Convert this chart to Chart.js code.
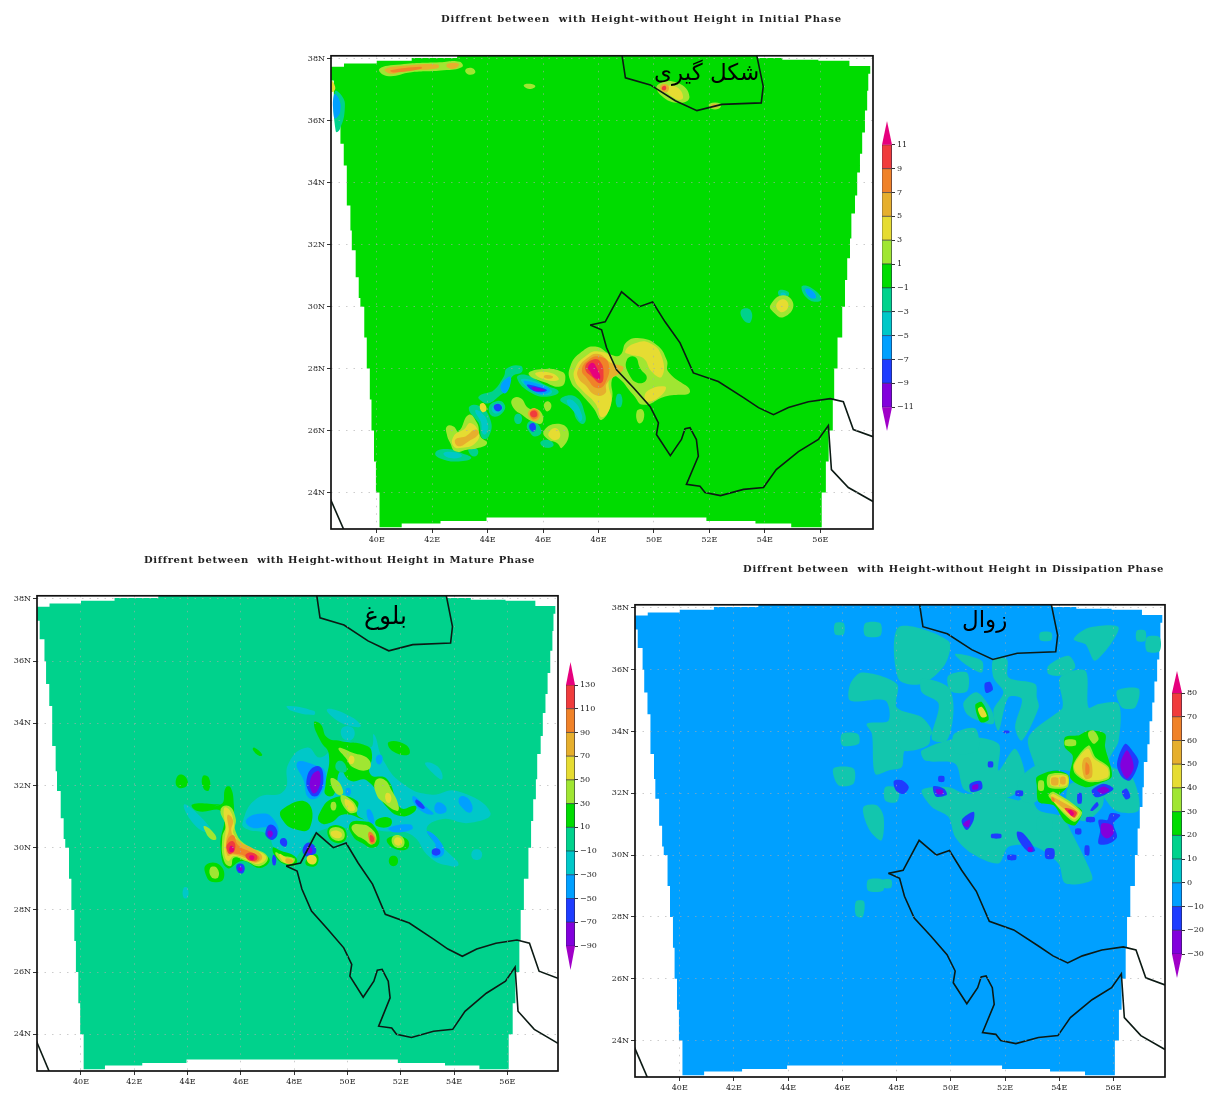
<!DOCTYPE html>
<html><head><meta charset="utf-8">
<script src="https://cdn.jsdelivr.net/npm/chart.js@4"></script>
<style>
html,body{margin:0;padding:0;background:#fff;width:1206px;height:1093px;overflow:hidden}
canvas{position:absolute;filter:blur(.6px)}
.t{position:absolute;white-space:pre;font:bold 10px "DejaVu Serif";color:#222;filter:blur(.25px)}
.p{position:absolute;font-family:"DejaVu Sans";color:#000;direction:rtl;white-space:nowrap;line-height:1}
</style></head><body>
<script>
// ---------- axes ----------
const lonTicks=[40,42,44,46,48,50,52,54,56];
const latTicks=[24,26,28,30,32,34,36,38];
// ---------- map domain and coasts, lon/lat ----------
const domainEdge=[[38.34,37.3],[38.45,36.7],[38.63,36],[38.69,35.26],[38.81,34.56],[38.92,33.27],[39.05,32.46],[39.1,31.82],[39.24,30.95],[39.35,30.28],[39.41,30],[39.55,29],[39.64,28],[39.75,27],[39.81,26],[39.9,25],[39.97,24],[40.1,22.88],[40.9,23],[42.3,23.08],[43.96,23.19],[51.89,23.08],[53.66,23],[54.95,22.88],[55.99,22.88],[56.05,24],[56.2,25],[56.3,26],[56.45,27],[56.5,28],[56.62,29],[56.79,30],[56.89,30.86],[56.97,31.56],[57.07,32.2],[57.12,33.01],[57.25,33.59],[57.33,34.33],[57.43,34.94],[57.51,35.62],[57.61,36.33],[57.69,36.97],[57.73,37.52],[57.8,37.77],[57.05,37.94],[55.93,37.97],[54.63,38.03],[53.73,38.1],[42.9,38.03],[41.26,37.94],[40,37.85],[38.82,37.75]];
const coastNorth=[[47.7,29.41],[48.24,29.51],[48.83,30.48],[49.47,30],[49.95,30.15],[50.4,29.51],[50.94,28.83],[51.42,27.86],[52.32,27.58],[53.23,27.06],[53.77,26.74],[54.31,26.51],[54.85,26.74],[55.57,26.93],[56.36,27.03],[56.83,26.93],[57.19,26.03],[57.9,25.8]];
const coastSouth=[[47.7,29.41],[48.11,29.25],[48.29,28.67],[48.65,27.96],[49.26,27.38],[49.86,26.78],[50.16,26.25],[50.09,25.87],[50.59,25.19],[50.99,25.71],[51.12,26.06],[51.3,26.09],[51.53,25.71],[51.6,25.17],[51.17,24.26],[51.66,24.2],[51.84,24],[52.4,23.9],[53.23,24.1],[53.95,24.16],[54.41,24.74],[55.21,25.32],[55.93,25.71],[56.29,26.16],[56.4,24.74],[57.01,24.16],[57.9,23.71]];
const coastCaspian=[[48.85,38.1],[48.97,37.39],[49.87,37.16],[50.77,36.65],[51.55,36.33],[52.45,36.53],[53.87,36.58],[53.94,37.11],[53.71,38.1]];
const coastRedSea=[[38.3,23.84],[38.81,22.8]];
// ---------- colour-bar levels ----------
const initialLevels=[11,9,7,5,3,1,-1,-3,-5,-7,-9,-11];
const matureLevels=[130,110,90,70,50,30,10,-10,-30,-50,-70,-90];
const dissipationLevels=[80,70,60,50,40,30,20,10,0,-10,-20,-30];
const initialTips=[13,-13];
const matureTips=[149.4,-110.2];
const dissipationTips=[89.3,-40.1];
// ---------- Initial phase contours ----------
const iSea=[
[[42.11,25.27],[42.47,25.4],[43.07,25.27],[43.41,25.11],[42.95,25],[42.35,25.08]],
[[43.32,25.44],[43.62,25.4],[43.62,25.2],[43.4,25.2]],
[[43.68,27.1],[44.16,27.26],[44.58,27.74],[44.7,28.01],[45.18,28.09],[45.24,27.9],[44.88,27.74],[44.76,27.37],[44.4,27.1],[44.04,26.88],[43.8,26.94]],
[[43.32,26.72],[43.68,26.8],[44.1,26.35],[44.04,25.81],[43.8,25.76],[43.68,26.24]],
[[44.04,26.72],[44.28,26.94],[44.58,26.88],[44.58,26.62],[44.22,26.45]],
[[45.06,27.69],[45.36,27.8],[46.08,27.47],[46.56,27.26],[46.2,27.1],[45.6,27.2]],
[[45.42,26.19],[45.66,26.3],[45.94,25.97],[45.72,25.81],[45.54,25.92]],
[[45.9,25.6],[46.14,25.7],[46.38,25.54],[46.14,25.44]],
[[46.62,27],[47.16,27.1],[47.52,26.51],[47.46,26.22],[47.22,26.35],[47.04,26.72]],
[[48.66,27.15],[48.82,27.15],[48.82,26.78],[48.66,26.78]],
[[45,26.5],[45.2,26.5],[45.2,26.25],[45,26.25]],
[[55.32,30.63],[55.64,30.63],[56.04,30.24],[55.64,30.2]],
[[53.15,29.89],[53.48,29.89],[53.48,29.5],[53.23,29.57]],
[[54.52,30.53],[54.85,30.47],[54.78,30.28],[54.52,30.34]],
[[38.49,36.94],[38.74,36.81],[38.85,36.42],[38.67,35.73],[38.52,35.66]]];
const iCyan=[
[[42.41,25.27],[42.83,25.3],[43.07,25.17],[42.65,25.11]],
[[43.55,26.65],[43.75,26.6],[44,26.25],[43.95,25.9],[43.82,25.9],[43.75,26.3]],
[[44.15,26.72],[44.4,26.88],[44.55,26.72],[44.3,26.55]],
[[45.2,27.62],[45.5,27.65],[46.3,27.3],[46.2,27.15],[45.75,27.22]],
[[46.85,26.95],[47.1,26.95],[47.4,26.5],[47.35,26.3],[47.2,26.5]],
[[54.6,30.45],[54.75,30.42],[54.72,30.32],[54.58,30.36]]];
const iSky=[
[[44.46,27.42],[44.76,27.74],[44.85,27.64],[44.64,27.2]],
[[45.3,27.58],[45.72,27.53],[46.26,27.31],[45.84,27.18]],
[[38.46,36.85],[38.64,36.7],[38.68,36.3],[38.55,36.1],[38.46,36.1]],
[[55.45,30.55],[55.65,30.55],[55.85,30.3],[55.65,30.28]]];
const iBlue=[
[[44.22,26.78],[44.4,26.86],[44.52,26.72],[44.34,26.62]],
[[45.42,27.47],[45.78,27.42],[46.14,27.29],[45.72,27.26]],
[[45.5,26.16],[45.66,26.24],[45.74,26.05],[45.6,25.97]]];
const iPurple=[[[45.6,27.4],[46.08,27.31],[45.72,27.28]]];
const iLime=[
[[46.98,28.07],[47.4,28.55],[47.88,28.71],[48.48,28.44],[48.78,28.44],[49.02,28.87],[49.5,28.98],[50.1,28.76],[50.46,28.28],[50.52,27.9],[51.3,27.26],[50.4,27.1],[49.62,26.83],[49.26,27.15],[48.66,27.74],[48.48,27.64],[48.48,27],[48.12,26.35],[47.82,26.72],[47.34,27.21],[47,27.58]],
[[42.53,26.13],[42.77,26.13],[42.95,25.97],[43.32,26.51],[43.62,26.24],[43.74,25.81],[43.98,25.6],[43.68,25.44],[43.26,25.38],[42.84,25.33],[42.65,25.6],[42.53,25.87]],
[[45.48,27.82],[45.9,27.98],[46.68,27.9],[46.8,27.64],[46.62,27.42],[46.08,27.55]],
[[44.88,27],[45.18,27.05],[45.48,26.72],[45.9,26.62],[45.96,26.24],[45.6,26.3],[45.24,26.51],[44.94,26.72]],
[[46.02,25.97],[46.5,26.22],[46.92,25.97],[46.68,25.44],[46.5,25.6],[46.2,25.7]],
[[46.05,26.88],[46.2,26.94],[46.3,26.78],[46.17,26.62],[46.05,26.72]],
[[49.38,26.62],[49.59,26.67],[49.62,26.35],[49.44,26.24]],
[[54.2,30.05],[54.67,30.37],[55.03,30.05],[54.67,29.66],[54.31,29.82]],
[[40.1,37.68],[40.86,37.82],[42.27,37.89],[42.99,37.91],[43.08,37.74],[42.41,37.63],[41.26,37.57],[40.36,37.45]],
[[43.2,37.65],[43.45,37.7],[43.55,37.55],[43.3,37.5]],
[[45.3,37.15],[45.5,37.2],[45.72,37.12],[45.5,37.03]],
[[50.13,37.16],[50.85,37.23],[51.28,36.78],[50.92,36.58],[50.27,36.81]],
[[52,36.55],[52.4,36.55],[52.35,36.4],[52.05,36.4]]];
const iHole=[[[49.02,28.28],[49.32,28.37],[49.5,28.01],[49.74,27.69],[49.44,27.53],[49.08,27.85]]];
const iYellow=[
[[48.96,28.55],[49.32,28.82],[49.86,28.82],[50.28,28.39],[50.28,27.74],[49.92,27.9],[49.62,28.33],[49.2,28.44]],
[[49.74,27.26],[50.4,27.42],[50.28,27.15],[49.74,26.94]],
[[47.16,28.01],[47.52,28.39],[48,28.55],[48.48,28.28],[48.36,27.53],[48.46,26.88],[48.12,26.43],[47.88,26.88],[47.4,27.31],[47.14,27.64]],
[[42.77,25.81],[43.14,26.03],[43.38,26.24],[43.68,25.92],[43.56,25.6],[43.08,25.44],[42.77,25.49]],
[[45.72,27.85],[46.32,27.85],[46.56,27.64],[46.08,27.64]],
[[46.2,25.92],[46.44,26.08],[46.62,25.87],[46.5,25.7],[46.26,25.76]],
[[43.72,26.83],[43.86,26.88],[43.96,26.67],[43.8,26.6]],
[[54.41,30.05],[54.67,30.24],[54.85,30.02],[54.6,29.82]],
[[38.36,37.3],[38.5,37.1],[38.45,36.95],[38.36,36.95]],
[[50.4,37.05],[50.8,37.1],[51.05,36.75],[50.8,36.7]]];
const iGold=[
[[47.26,27.96],[47.58,28.33],[48,28.47],[48.42,28.2],[48.9,28.01],[48.3,27.53],[48.24,27.2],[47.88,27.15],[47.52,27.47],[47.28,27.69]],
[[42.83,25.7],[43.2,25.81],[43.56,26.03],[43.68,25.9],[43.32,25.65],[42.95,25.49]],
[[40.3,37.67],[41,37.78],[42.2,37.82],[42.2,37.7],[41,37.62],[40.5,37.52]],
[[42.55,37.84],[42.95,37.84],[42.85,37.7],[42.55,37.72]],
[[46.05,27.78],[46.35,27.75],[46.3,27.68],[46.05,27.7]],
[[45.48,26.62],[45.72,26.72],[45.9,26.51],[45.72,26.3],[45.5,26.43]],
[[50.25,37.15],[50.5,37.15],[50.5,36.95],[50.28,36.95]],
[[52.08,36.52],[52.32,36.52],[52.28,36.44],[52.1,36.44]]];
const iOrange=[
[[47.4,27.96],[47.64,28.28],[48,28.39],[48.36,28.17],[48.24,27.53],[47.94,27.37],[47.58,27.69]],
[[40.5,37.63],[41.6,37.75],[41.6,37.68],[40.6,37.56]],
[[45.54,26.6],[45.72,26.68],[45.84,26.5],[45.7,26.36],[45.55,26.44]]];
const iRed=[
[[47.52,28.01],[47.76,28.28],[48.06,28.23],[48.18,27.74],[48.06,27.53],[47.82,27.69]],
[[45.54,26.58],[45.72,26.64],[45.78,26.47],[45.6,26.44]],
[[50.3,37.1],[50.42,37.12],[50.42,37],[50.3,37]]];
const iPink=[[[47.62,28.04],[47.78,28.19],[47.94,28.01],[48.06,27.69],[47.88,27.69],[47.7,27.9]]];
// ---------- Mature phase contours ----------
const mCyan=[
[[46.06,30.8],[46.62,31.6],[47.61,31.82],[47.8,32.73],[48.49,33.22],[48.99,32.9],[49.74,33.43],[50.86,33.22],[50.99,33.65],[51.36,32.79],[52.11,32.04],[53.11,31.71],[54.11,31.82],[55.36,31.13],[54.61,30.8],[53.48,30.91],[52.98,30.53],[53.86,29.78],[54.17,29.46],[53.86,29.41],[53.11,29.68],[52.36,30.43],[51.36,30.53],[49.99,30.64],[48.93,30.53],[48.36,30],[47.74,29.46],[47.24,30],[46.99,30.43],[46.24,30.59]],
[[47.74,34.56],[48.74,34.4],[48.74,34.27],[47.9,34.4]],
[[49.24,34.45],[50,34.27],[50.5,33.94],[50.3,33.88],[49.6,34.1]],
[[43.87,31.39],[44.6,30.9],[44.87,30.5],[44.3,30.7]],
[[52.92,32.73],[53.4,32.6],[53.55,32.2],[53.2,32.4]],
[[49.8,33.85],[50.2,33.85],[50.2,33.5],[49.85,33.5]],
[[54.7,29.9],[55,29.9],[55,29.65],[54.7,29.65]],
[[43.85,28.7],[44,28.7],[44,28.4],[43.85,28.4]]];
const mSky=[
[[46.2,30.9],[46.8,31.1],[47.2,30.95],[47.4,30.5],[47,30.65],[46.4,30.65]],
[[48.11,32.73],[48.74,32.67],[49.18,32.4],[48.99,31.71],[48.55,31.6],[48.36,32.15]],
[[51.55,30.64],[52.36,30.75],[52.42,30.59],[51.74,30.5]],
[[54.36,31.66],[54.67,31.39],[54.61,31.13],[54.3,31.29],[54.17,31.55]],
[[53.36,31.45],[53.67,31.34],[53.67,31.13],[53.3,31.15]],
[[52.48,31.66],[52.98,31.29],[53.23,31.08],[52.86,31.13],[52.48,31.45]],
[[52.98,30.53],[53.42,30.27],[53.61,29.8],[53.17,29.72],[53.3,30.12]],
[[50.72,31.2],[50.88,31.2],[51,30.8],[50.85,30.8]],
[[51.1,32.95],[51.3,32.95],[51.25,32.7],[51.1,32.72]],
[[49.95,31.9],[50.1,31.9],[50.1,31.7],[49.95,31.7]]];
const mBlue=[
[[46.93,30.53],[47.12,30.75],[47.37,30.53],[47.24,30.27],[46.99,30.33]],
[[48.49,32.3],[48.87,32.63],[49.09,32.36],[48.93,31.72],[48.61,31.72]],
[[48.36,30.05],[48.61,30.16],[48.83,29.89],[48.55,29.73],[48.36,29.78]],
[[47.5,30.28],[47.7,30.27],[47.7,30.05],[47.5,30.1]],
[[45.85,29.45],[46.1,29.45],[46.1,29.2],[45.9,29.2]],
[[47.2,29.75],[47.3,29.75],[47.3,29.45],[47.2,29.45]],
[[53.2,29.95],[53.45,29.95],[53.45,29.78],[53.2,29.78]],
[[52.6,31.55],[52.9,31.3],[52.8,31.25],[52.55,31.45]]];
const mPurple=[
[[47,30.5],[47.12,30.55],[47.2,30.43],[47.08,30.33]],
[[48.61,32.2],[48.87,32.47],[48.99,32.3],[48.87,31.82],[48.68,31.77]],
[[48.5,30],[48.65,30],[48.65,29.82],[48.5,29.85]],
[[45.92,29.36],[46.04,29.36],[46.04,29.26],[45.92,29.26]]];
const mGreen=[
[[48.74,34.02],[48.99,33.97],[49.24,33.54],[49.74,33.43],[50.74,33.27],[50.92,33],[50.86,32.36],[51.49,32.2],[51.98,31.29],[52.55,31.34],[52.48,31.13],[51.98,31.02],[51.49,31.29],[50.74,32.15],[50.11,32.15],[49.74,32.47],[49.49,31.71],[49.18,31.71],[49.18,32.04],[49.3,33],[48.99,33.43]],
[[47.55,31.23],[48.49,31.45],[48.59,30.64],[48.05,30.59],[47.55,30.91]],
[[48.93,31.07],[49.49,31.6],[50.36,31.5],[50.36,31.07],[50.61,30.91],[49.86,31.07],[49.36,30.8],[48.99,30.8]],
[[44.18,31.39],[45.24,31.39],[45.43,31.93],[45.62,31.93],[45.74,31.34],[45.8,30.21],[47.05,29.68],[46.74,29.35],[46.06,29.57],[45.49,29.35],[45.24,30],[45.3,31.13],[44.37,31.18]],
[[43.62,32.3],[43.9,32.3],[43.98,32],[43.62,31.95]],
[[44.57,32.3],[44.8,32.25],[44.8,31.85],[44.6,31.9]],
[[46.5,33.22],[46.8,33],[46.7,32.95],[46.45,33.15]],
[[44.7,29.45],[45.2,29.45],[45.35,29],[44.95,28.9],[44.7,29.1]],
[[51.55,33.4],[52.2,33.3],[52.3,33],[51.7,33.1]],
[[51.1,30.9],[51.6,30.95],[51.6,30.7],[51.1,30.7]],
[[51.5,30.3],[52.2,30.3],[52.25,29.97],[51.7,30]],
[[51.6,29.7],[51.85,29.7],[51.85,29.45],[51.6,29.45]],
[[47.2,30],[47.5,29.9],[48.05,29.7],[48.05,29.45],[47.7,29.45],[47.35,29.65]],
[[49.3,30.65],[49.85,30.65],[49.9,30.22],[49.4,30.22]],
[[50.1,30.78],[50.6,30.85],[51,30.7],[51.2,30.2],[50.95,30],[50.55,30.15],[50.2,30.38]],
[[48.45,29.6],[48.85,29.78],[48.85,29.45],[48.5,29.42]]];
const mSea=[[[49.6,32.75],[49.85,32.75],[49.95,32.45],[49.6,32.5]]];
const mLime=[
[[45.24,31.23],[45.55,31.34],[45.8,30.96],[45.8,30.53],[46.18,30.1],[46.99,29.73],[46.74,29.41],[46.18,29.57],[45.74,29.68],[45.62,29.41],[45.37,29.57],[45.3,30.32],[45.43,30.75]],
[[44.62,30.7],[44.9,30.55],[45.08,30.28],[44.85,30.3],[44.65,30.55]],
[[44.85,29.35],[45.1,29.35],[45.15,29.05],[44.9,29.05]],
[[49.67,33.2],[50.17,33.06],[50.8,32.84],[50.8,32.52],[50.24,32.57],[49.92,32.9]],
[[49.36,32.2],[49.55,32.2],[49.8,31.93],[49.8,31.71],[49.55,31.77]],
[[49.74,31.66],[50.05,31.6],[50.36,31.29],[50.3,31.13],[49.99,31.18]],
[[49.4,31.45],[49.55,31.45],[49.55,31.23],[49.4,31.23]],
[[51.05,32.15],[51.36,32.2],[51.67,31.82],[51.92,31.34],[51.86,31.18],[51.36,31.45],[51.09,31.71]],
[[49.35,30.6],[49.8,30.6],[49.85,30.28],[49.45,30.28]],
[[50.17,30.7],[50.55,30.75],[50.86,30.64],[51.09,30.32],[50.92,30.1],[50.61,30.27],[50.3,30.43]],
[[51.7,30.35],[52.05,30.35],[52.1,30.05],[51.75,30.05]],
[[47.3,29.85],[47.55,29.75],[48,29.65],[47.95,29.5],[47.65,29.5],[47.4,29.65]]];
const mYellow=[
[[45.37,31.27],[45.59,31.2],[45.74,30.75],[45.74,30.43],[46.18,30.05],[46.93,29.73],[46.68,29.48],[46.18,29.62],[45.74,29.73],[45.52,29.57],[45.37,29.89],[45.43,30.65]],
[[48.5,29.72],[48.8,29.72],[48.8,29.5],[48.55,29.5]],
[[50.1,32.95],[50.25,32.9],[50.2,32.7],[50.05,32.75]],
[[49.9,31.55],[50.1,31.5],[50.28,31.27],[50.2,31.17],[50,31.25]],
[[51.45,31.75],[51.62,31.7],[51.6,31.45],[51.45,31.5]],
[[49.4,30.52],[49.75,30.5],[49.75,30.33],[49.45,30.35]],
[[51.78,30.3],[52,30.3],[52.02,30.1],[51.8,30.1]],
[[47.45,29.8],[47.65,29.7],[47.95,29.62],[47.9,29.52],[47.65,29.52],[47.5,29.65]]];
const mGold=[
[[45.5,31.05],[45.7,30.9],[45.65,30.5],[45.95,30.2],[46.5,29.95],[46.8,29.7],[46.55,29.52],[46.18,29.66],[45.7,29.78],[45.5,29.75],[45.45,30.2],[45.55,30.6]],
[[47.7,29.65],[47.95,29.6],[47.9,29.5],[47.7,29.52]]];
const mOrange=[
[[45.5,30.25],[45.72,30.4],[45.9,30.08],[46.4,29.85],[46.7,29.68],[46.5,29.55],[46.1,29.75],[45.7,29.82],[45.5,29.9]],
[[50.8,30.5],[50.95,30.45],[51.05,30.2],[50.9,30.12],[50.8,30.3]]];
const mRed=[
[[45.5,30.12],[45.72,30.2],[45.78,29.95],[45.6,29.8],[45.48,29.92]],
[[46.2,29.8],[46.5,29.82],[46.62,29.65],[46.4,29.57],[46.2,29.68]],
[[50.85,30.4],[50.97,30.35],[50.98,30.2],[50.87,30.2]]];
const mPink=[
[[45.6,30.05],[45.72,30.02],[45.72,29.88],[45.58,29.88]],
[[46.35,29.75],[46.5,29.72],[46.45,29.6],[46.32,29.65]]];
// ---------- Dissipation phase contours ----------
const dPatch=[
[[48.07,37.37],[49.91,36.93],[49.79,36.18],[48.93,35.54],[48.07,35.7]],
[[46.29,35.54],[46.72,35.91],[48.01,35.54],[48.01,34.78],[48.93,34.46],[49.3,33.92],[48.31,33.39],[48.19,32.85],[47.7,32.74],[47.21,32.63],[47.09,33.92],[46.9,34.25],[47.7,34.35],[47.58,35],[46.29,35]],
[[48.93,35.7],[49.91,35.43],[50.1,34.68],[49.85,33.71],[49.3,33.76],[49.55,34.9],[48.93,35.27]],
[[48.93,32.1],[49.91,32.2],[50.53,31.99],[51.64,31.99],[52.5,31.77],[52.87,31.99],[53.24,31.45],[54.1,31.24],[54.47,30.7],[55.08,29.62],[55.2,29.19],[54.22,29.09],[53.97,29.73],[53.11,30.27],[52.13,30.27],[51.76,29.73],[50.78,30.05],[50.16,30.59],[49.91,31.24],[49.3,31.56]],
[[48.93,33.39],[50.53,33.82],[51.76,33.6],[51.76,32.74],[52.37,33.44],[52.74,32.42],[52.13,31.88],[50.53,32.1],[50.16,32.96],[49.05,33.06]],
[[50.16,36.51],[51.14,36.29],[51.14,35.91],[50.53,36.18]],
[[51.57,36.34],[52.07,36.34],[52.13,35.75],[53.11,35.54],[53.17,35.11],[53.24,34.78],[52.62,33.71],[52.37,34.14],[52.62,35.05],[52.13,35.11],[51.76,34.03],[51.57,34.68],[51.94,35.27],[51.57,35.75]],
[[50.47,34.94],[50.96,35.27],[51.51,34.68],[51.57,34.25],[51.02,34.35],[50.59,34.57]],
[[52.87,33.82],[54.1,34.73],[54.03,35.75],[54.96,35.97],[55.08,34.78],[55.45,34.89],[56.19,34.89],[56.19,33.71],[55.82,32.96],[56.68,32.53],[56.93,31.45],[56.06,31.45],[55.08,32.53],[53.73,32.74],[53.11,32.31],[53.24,31.77],[52.87,32.2],[53.11,32.85]],
[[53.6,36.13],[54.34,36.45],[54.59,36.08],[54.1,35.81],[53.6,35.86]],
[[54.53,36.99],[55.08,37.36],[56.19,37.36],[55.33,36.29],[54.96,36.83]],
[[56.13,35.32],[56.93,35.38],[56.8,34.78],[56.31,34.78]],
[[45.67,32.8],[46.41,32.8],[46.41,32.31],[45.85,32.26]],
[[46.78,31.56],[47.27,31.61],[47.52,31.24],[47.45,30.48],[47.09,30.7],[46.84,31.13]],
[[47.58,32.2],[48.07,32.15],[48.01,31.72],[47.58,31.77]],
[[45.98,33.92],[46.57,33.92],[46.6,33.6],[46,33.55]],
[[46.84,37.5],[47.4,37.5],[47.4,37.1],[46.84,37.1]],
[[45.73,37.5],[46.05,37.5],[46.05,37.15],[45.73,37.15]],
[[56.86,37.26],[57.17,37.26],[57.17,36.94],[56.86,36.94]],
[[57.23,37.05],[57.7,37.05],[57.7,36.6],[57.23,36.6]],
[[53.3,37.2],[53.7,37.2],[53.7,36.95],[53.3,36.95]],
[[46.95,29.2],[47.5,29.2],[47.5,28.85],[46.95,28.85]],
[[53.2,31.2],[53.7,31.2],[53.7,30.8],[53.2,30.8]],
[[46.5,28.5],[46.8,28.5],[46.75,28],[46.5,28.05]],
[[47.5,29.2],[47.8,29.2],[47.8,28.95],[47.5,28.95]],
[[49.9,35.8],[50.6,35.9],[50.6,35.3],[50,35.3]],
[[48.1,34.3],[49,34.4],[49.2,33.6],[48.2,33.4]],
[[50.1,33.9],[50.9,34.1],[51,33.4],[50.2,33.3]],
[[52.5,32.4],[53.2,32.9],[53.5,32.3],[53.1,31.7],[52.6,31.8]],
[[54.4,32.3],[55.5,32.3],[55.6,31.6],[54.9,31.1],[54.3,31.5]]];
const dBlue=[
[[56.13,32.96],[56.43,33.6],[56.74,33.33],[56.93,33.01],[56.62,32.42],[56.31,32.53]],
[[55.2,32.1],[55.63,32.31],[56,32.15],[55.63,31.93],[55.33,31.88]],
[[55.45,31.13],[55.76,31.13],[55.88,31.35],[56.25,31.29],[56,31.02],[56.13,30.59],[55.82,30.37],[55.45,30.37],[55.51,30.81]],
[[47.9,32.4],[48.2,32.42],[48.45,32.2],[48.25,31.98],[47.97,32.1]],
[[49.35,32.22],[49.75,32.15],[49.85,31.95],[49.45,31.9]],
[[50.7,32.3],[51.1,32.4],[51.15,32.15],[50.75,32.05]],
[[51.25,35.55],[51.45,35.6],[51.55,35.35],[51.3,35.25]],
[[50.4,31.13],[50.84,31.4],[50.84,31.13],[50.59,30.81]],
[[52.44,30.75],[52.68,30.7],[53.11,30.16],[52.87,30.1],[52.5,30.48]],
[[53.5,30.2],[53.8,30.2],[53.8,29.9],[53.5,29.9]],
[[52.1,30],[52.4,30],[52.4,29.85],[52.1,29.85]],
[[51.5,30.68],[51.85,30.68],[51.85,30.55],[51.5,30.55]],
[[54.95,30.3],[55.1,30.3],[55.1,30],[54.95,30]],
[[54.6,30.85],[54.8,30.85],[54.8,30.68],[54.6,30.68]],
[[55.14,31.45],[55.39,31.72],[55.45,31.61],[55.23,31.43]],
[[54.68,32],[54.82,32],[54.82,31.68],[54.68,31.68]],
[[56.31,32.05],[56.49,32.15],[56.62,31.88],[56.46,31.8]],
[[52.4,32.08],[52.65,32.08],[52.65,31.92],[52.4,31.92]],
[[51.38,33.02],[51.55,33.02],[51.55,32.85],[51.38,32.85]],
[[49.55,32.55],[49.75,32.55],[49.75,32.38],[49.55,32.38]],
[[51.95,34.02],[52.15,34.02],[52.15,33.95],[51.95,33.95]],
[[55,31.22],[55.3,31.22],[55.3,31.08],[55,31.08]]];
const dPurple=[
[[56.25,32.9],[56.49,33.39],[56.68,33.12],[56.74,32.8],[56.49,32.47]],
[[55.4,32.1],[55.65,32.22],[55.85,32.1],[55.6,31.98]],
[[55.57,31.02],[55.94,30.97],[56,30.7],[55.76,30.54],[55.55,30.7]],
[[49.45,32.12],[49.7,32.1],[49.7,31.98],[49.5,31.98]],
[[50.8,32.25],[51,32.3],[51,32.15],[50.8,32.12]],
[[50.45,31],[50.7,31.15],[50.65,30.9]],
[[52.85,30.25],[53,30.25],[53,30.12],[52.85,30.12]]];
const dGreen=[
[[54.22,33.82],[54.71,33.87],[55.08,34.03],[55.69,33.92],[55.69,33.5],[55.94,32.55],[55.45,32.31],[54.96,32.2],[54.4,32.5],[54.5,33.2],[54.2,33.5]],
[[53.17,32.53],[53.85,32.74],[54.34,32.58],[54.28,32.2],[53.97,31.88],[54.83,31.45],[54.59,30.97],[54.22,31.07],[53.79,31.61],[53.24,31.72],[53.17,32.26]],
[[50.9,34.85],[51.15,34.95],[51.4,34.4],[51.1,34.3]]];
const dLime=[
[[54.22,33.72],[54.6,33.72],[54.6,33.55],[54.22,33.55]],
[[55.08,33.98],[55.27,34.03],[55.45,33.76],[55.27,33.6],[55.08,33.82]],
[[54.53,32.96],[55.08,33.55],[55.33,33.17],[55.82,32.85],[55.82,32.47],[55.08,32.37],[54.59,32.63]],
[[53.24,32.4],[53.42,32.4],[53.42,32.1],[53.24,32.1]],
[[53.6,31.94],[53.79,32.05],[54.83,31.4],[54.59,31.08],[54.28,31.24],[53.79,31.72]],
[[53.6,32.6],[54.3,32.6],[54.3,32.2],[53.6,32.2]]];
const dYellow=[
[[54.55,32.92],[55.05,33.45],[55.28,33.12],[55.78,32.82],[55.78,32.52],[55.08,32.42],[54.65,32.65]],
[[53.68,31.92],[53.8,31.98],[54.75,31.4],[54.57,31.15],[54.3,31.3],[53.8,31.72]],
[[53.7,32.55],[54.27,32.55],[54.27,32.25],[53.7,32.25]],
[[51,34.73],[51.14,34.8],[51.33,34.5],[51.14,34.46]]];
const dGold=[
[[54.9,33.12],[55.08,33.17],[55.2,32.96],[55.2,32.53],[54.96,32.47],[54.84,32.85]],
[[53.7,31.9],[53.85,31.85],[54.7,31.4],[54.57,31.2],[54.3,31.42],[53.85,31.72]],
[[53.72,32.5],[53.95,32.5],[53.95,32.28],[53.72,32.28]],
[[54.05,32.52],[54.22,32.52],[54.22,32.3],[54.05,32.3]]];
const dOrange=[[[54.98,33],[55.1,32.9],[55.1,32.65],[54.98,32.6]],[[53.72,31.88],[53.82,31.82],[53.82,31.72],[53.72,31.76]]];
const dRed=[[[54.2,31.52],[54.4,31.5],[54.65,31.38],[54.55,31.22],[54.35,31.35]]];
const dPink=[[[54.32,31.45],[54.45,31.45],[54.55,31.33],[54.45,31.27]]];

// ---------- palette ----------
const C={pink:'#e6007d',red:'#f03c3c',orange:'#f08228',gold:'#e6af2d',yellow:'#e6dc32',lime:'#a0e632',green:'#00dc00',sea:'#00d28c',cyan:'#00c8c8',sky:'#00a0ff',blue:'#1e3cff',purple:'#8200dc',violet:'#a000c8',patch:'#12c6ae'};
const barColours=[C.red,C.orange,C.gold,C.yellow,C.lime,C.green,C.sea,C.cyan,C.sky,C.blue,C.purple];

const frame={id:'frame',afterDraw(c){const a=c.chartArea,g=c.ctx;g.save();g.strokeStyle='#111';g.lineWidth=1.7;g.strokeRect(a.left,a.top,a.width,a.height);g.restore();}};
const F='"DejaVu Serif"';

function poly(points,colour,tension,stepped){
  let pts=points.map(([x,y])=>({x,y}));
  // a smooth contour repeats its neighbours so the curve closes without a cusp
  pts=tension>0?[pts[pts.length-1],...pts,pts[0],pts[1]]:pts.concat(pts[0]);
  return {data:pts,showLine:true,pointRadius:0,fill:'shape',backgroundColor:colour,borderColor:colour,borderWidth:0,tension:tension,stepped:!!stepped};
}
function line(points){
  return {data:points.map(([x,y])=>({x,y})),showLine:true,pointRadius:0,fill:false,borderColor:'#0c1a14',borderWidth:1.6,tension:0};
}
function mapChart(box,bg,layers,tension){
  const ds=[poly(domainEdge,bg,0,true)];
  layers.forEach(([col,list])=>list.forEach(p=>ds.push(poly(p,col,tension))));
  [coastNorth,coastSouth,coastCaspian,coastRedSea].forEach(l=>ds.push(line(l)));
  ds.forEach((d,i)=>d.order=-i);
  const c=document.createElement('canvas');
  const L=36,T=6,R=6,B=22;
  c.width=box.w+L+R;c.height=box.h+T+B;c.style.left=(box.x-L)+'px';c.style.top=(box.y-T)+'px';
  document.body.appendChild(c);
  const grid={z:1,color:'rgba(170,170,170,.6)',tickColor:'#333',tickLength:4,lineWidth:1,tickWidth:1};
  new Chart(c,{type:'scatter',data:{datasets:ds},plugins:[frame],options:{
    responsive:false,animation:false,devicePixelRatio:1,events:[],
    layout:{autoPadding:false,padding:{top:T,right:R}},
    plugins:{legend:{display:false},tooltip:{enabled:false},filler:{propagate:false}},
    scales:{
      x:{type:'linear',min:38.35,max:57.9,afterFit:s=>{s.height=B},afterBuildTicks:s=>{s.ticks=lonTicks.map(value=>({value}))},
        grid,border:{display:false,dash:[1.5,6]},
        ticks:{autoSkip:false,maxRotation:0,padding:2,color:'#222',font:{family:F,size:8},callback:v=>v+'E'}},
      y:{type:'linear',min:22.82,max:38.1,afterFit:s=>{s.width=L},afterBuildTicks:s=>{s.ticks=latTicks.map(value=>({value}))},
        grid,border:{display:false,dash:[1.5,6]},
        ticks:{autoSkip:false,padding:2,color:'#222',font:{family:F,size:8},callback:v=>v+'N'}}
    }}});
}
function colourBar(box,levels,tips){
  const ds=[];
  barColours.forEach((col,i)=>{
    const d=poly([[0,levels[i]],[1,levels[i]],[1,levels[i+1]],[0,levels[i+1]]],col,0);
    d.borderWidth=.7;d.borderColor='rgba(40,40,70,.75)';ds.push(d);
  });
  ds.push(poly([[0,levels[0]],[1,levels[0]],[.5,tips[0]]],C.pink,0));
  ds.push(poly([[0,levels[11]],[1,levels[11]],[.5,tips[1]]],C.violet,0));
  ds.forEach((d,i)=>d.order=-i);
  const c=document.createElement('canvas'),W=36,P=8;
  c.width=box.w+W;c.height=box.h+2*P;c.style.left=box.x+'px';c.style.top=(box.y-P)+'px';
  document.body.appendChild(c);
  new Chart(c,{type:'scatter',data:{datasets:ds},options:{
    responsive:false,animation:false,devicePixelRatio:1,events:[],
    layout:{autoPadding:false,padding:{top:P,bottom:P}},
    plugins:{legend:{display:false},tooltip:{enabled:false},filler:{propagate:false}},
    scales:{
      x:{type:'linear',min:0,max:1,display:false},
      y:{type:'linear',position:'right',min:tips[1],max:tips[0],afterFit:s=>{s.width=W},afterBuildTicks:s=>{s.ticks=levels.map(value=>({value}))},
        grid:{drawOnChartArea:false,tickLength:3,tickColor:'#333'},border:{display:false},
        ticks:{autoSkip:false,padding:2,color:'#222',font:{family:F,size:8},callback:v=>v<0?'\u2212'+(-v):String(v)}}
    }}});
}
function text(cls,str,x,y,size,spacing){
  const d=document.createElement('div');d.className=cls;d.textContent=str;
  d.style.left=x+'px';d.style.top=y+'px';if(size)d.style.fontSize=size+'px';
  if(spacing)d.style.letterSpacing=spacing+'px';
  document.body.appendChild(d);return d;
}

mapChart({x:331,y:55,w:542,h:474},C.green,[[C.sea,iSea],[C.cyan,iCyan],[C.sky,iSky],[C.blue,iBlue],[C.purple,iPurple],[C.lime,iLime],[C.green,iHole],[C.yellow,iYellow],[C.gold,iGold],[C.orange,iOrange],[C.red,iRed],[C.pink,iPink]],.5);
mapChart({x:37,y:595,w:521,h:476},C.sea,[[C.cyan,mCyan],[C.sky,mSky],[C.blue,mBlue],[C.purple,mPurple],[C.green,mGreen],[C.sea,mSea],[C.lime,mLime],[C.yellow,mYellow],[C.gold,mGold],[C.orange,mOrange],[C.red,mRed],[C.pink,mPink]],.5);
mapChart({x:635,y:604,w:530,h:473},C.sky,[[C.patch,dPatch],[C.blue,dBlue],[C.purple,dPurple],[C.green,dGreen],[C.lime,dLime],[C.yellow,dYellow],[C.gold,dGold],[C.orange,dOrange],[C.red,dRed],[C.pink,dPink]],.3);

colourBar({x:882,y:121,w:10,h:310},initialLevels,initialTips);
colourBar({x:566,y:662,w:9,h:308},matureLevels,matureTips);
colourBar({x:1172,y:671,w:10,h:307},dissipationLevels,dissipationTips);

text('t','Diffrent between  with Height-without Height in Initial Phase',441,13,null,.9);
text('t','Diffrent between  with Height-without Height in Mature Phase',144,554,null,.64);
text('t','Diffrent between  with Height-without Height in Dissipation Phase',743,563,null,.71);
text('p','شکل گیری',654,61,23);
text('p','بلوغ',364,603,25);
text('p','زوال',962,608,23);
</script>
</body></html>
